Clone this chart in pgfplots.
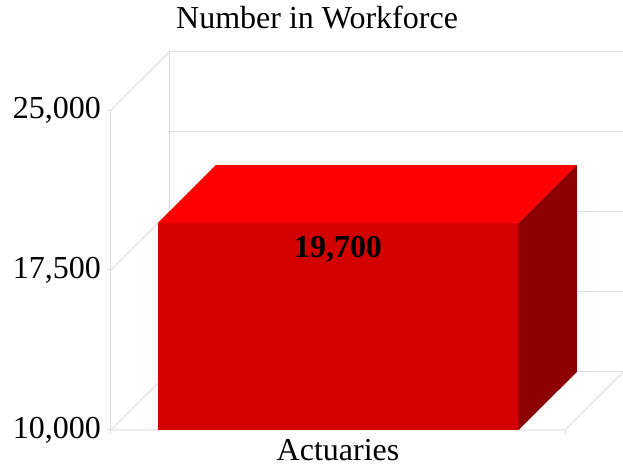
\documentclass[border=0pt]{standalone}
\usepackage{fontspec}
\setmainfont{Liberation Serif}
\usepackage{pgfplots}
\pgfplotsset{compat=1.18}

\definecolor{gridc}{RGB}{220,220,220}
\definecolor{barfront}{RGB}{210,0,0}
\definecolor{bartop}{RGB}{255,0,0}
\definecolor{barside}{RGB}{140,0,0}

\newcommand{\lbl}{\fontsize{16}{19}\selectfont}

\begin{document}
\begin{tikzpicture}
\begin{axis}[
  name=ax,
  scale only axis,
  width=256.06pt, height=189.01pt,
  xmin=0, xmax=1.128, ymin=10000, ymax=27720,
  clip=false,
  axis line style={draw=none},
  major tick length=0pt,
  tick pos=left,
  xtick={0.5}, xticklabels={Actuaries},
  ytick={10000,17500,25000},
  scaled y ticks=false,
  /pgf/number format/.cd, 1000 sep={,}, assume math mode=true,
  /pgfplots/.cd,
  tick label style={font=\lbl},
  y tick label style={xshift=-1.5pt},
  x tick label style={yshift=-1pt},
  title={Number in Workforce},
  title style={font=\lbl, xshift=-25pt, yshift=2pt},
  every axis plot/.append style={line width=0.5pt},
]
% walls and floor
\addplot[gridc] coordinates {(0,10000) (0,25000)};
\addplot[gridc] coordinates {(0,10000) (0.128,12720)};
\addplot[gridc] coordinates {(0,17500) (0.128,20220)};
\addplot[gridc] coordinates {(0,25000) (0.128,27720)};
\addplot[gridc] coordinates {(0.128,12720) (0.128,27720)};
\addplot[gridc] coordinates {(0.128,27720) (1.128,27720)};
\addplot[gridc] coordinates {(0.128,23970) (1.128,23970)};
\addplot[gridc] coordinates {(0.128,20220) (1.128,20220)};
\addplot[gridc] coordinates {(0.128,16470) (1.128,16470)};
\addplot[gridc] coordinates {(0.128,12720) (1.128,12720)};
\addplot[gridc] coordinates {(0,10000) (1,10000) (1.128,12720)};
% tick stubs
\addplot[gridc] coordinates {(-0.0088,10000) (0,10000)};
\addplot[gridc] coordinates {(-0.0088,17500) (0,17500)};
\addplot[gridc] coordinates {(-0.0088,25000) (0,25000)};
\addplot[gridc] coordinates {(0,10000) (0,9810)};
\addplot[gridc] coordinates {(1,10000) (1,9810)};
% bar: front, top, side
\addplot[draw=none, fill=barfront] coordinates {(0.103,10000) (0.898,10000) (0.898,19700) (0.103,19700)} --cycle;
\addplot[draw=none, fill=bartop] coordinates {(0.103,19700) (0.898,19700) (1.026,22420) (0.231,22420)} --cycle;
\addplot[draw=none, fill=barside] coordinates {(0.898,10000) (1.026,12720) (1.026,22420) (0.898,19700)} --cycle;
% value label
\addplot[draw=none, mark=none, point meta=y, nodes near coords,
  nodes near coords align={below},
  every node near coord/.append style={font=\lbl\bfseries, text=black, yshift=-3pt}]
  coordinates {(0.5,19700)};
\end{axis}
\pgfresetboundingbox
\path (ax.south west) ++(-55.5pt,-17.5pt) rectangle ++(311.5pt,232.5pt);
\end{tikzpicture}
\end{document}
